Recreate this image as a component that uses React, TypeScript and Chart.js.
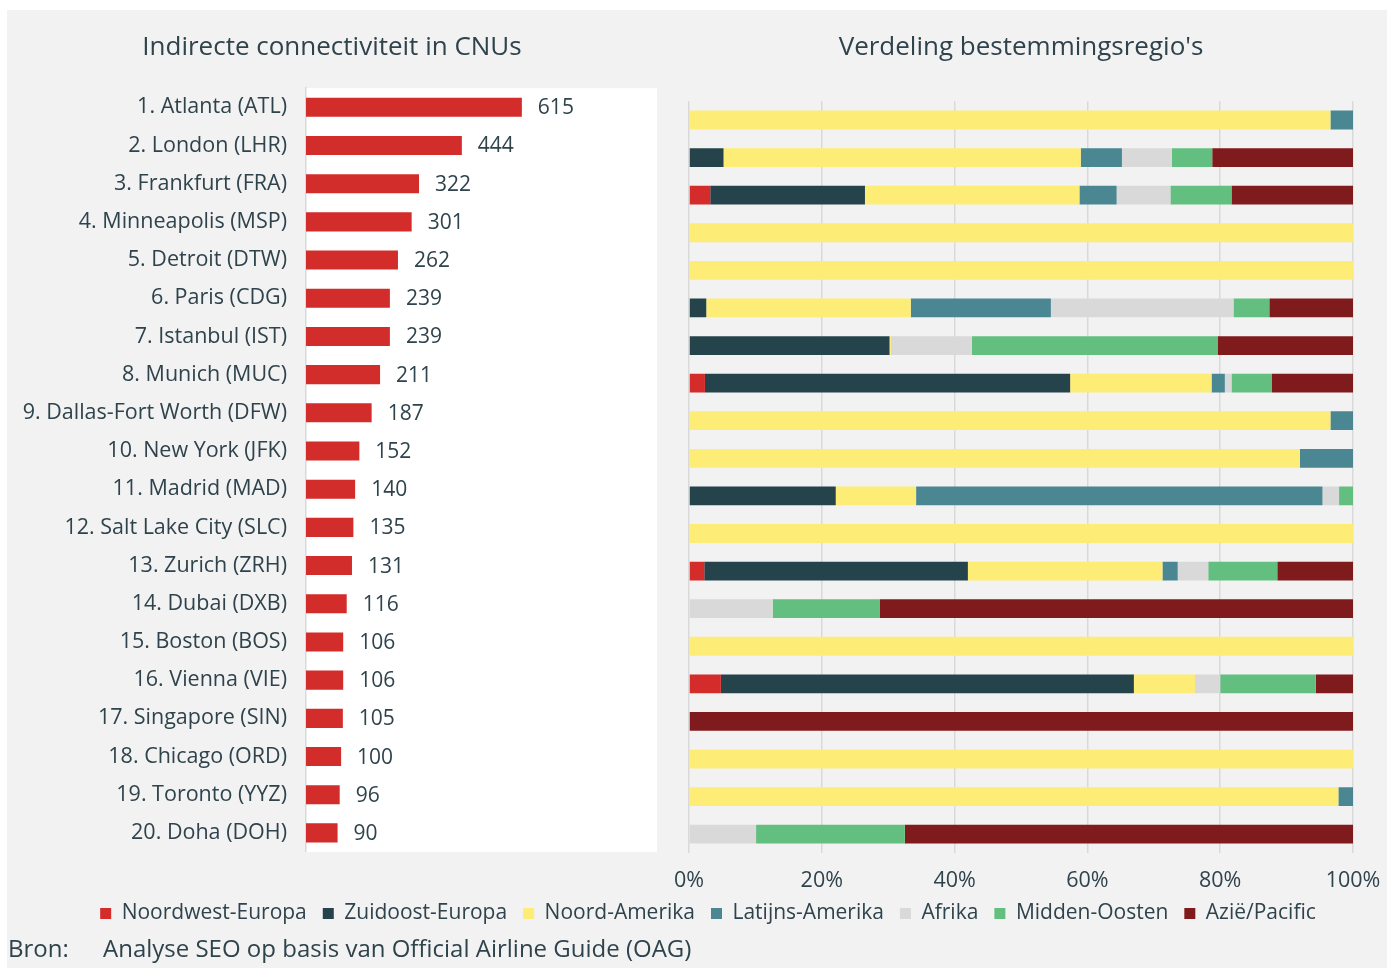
import React, { useEffect, useRef } from "react";
import { Chart, registerables } from "chart.js";

Chart.register(...registerables);

// ---------- Data ----------
const airports = [
  "1. Atlanta (ATL)",
  "2. London (LHR)",
  "3. Frankfurt (FRA)",
  "4. Minneapolis (MSP)",
  "5. Detroit (DTW)",
  "6. Paris (CDG)",
  "7. Istanbul (IST)",
  "8. Munich (MUC)",
  "9. Dallas-Fort Worth (DFW)",
  "10. New York (JFK)",
  "11. Madrid (MAD)",
  "12. Salt Lake City (SLC)",
  "13. Zurich (ZRH)",
  "14. Dubai (DXB)",
  "15. Boston (BOS)",
  "16. Vienna (VIE)",
  "17. Singapore (SIN)",
  "18. Chicago (ORD)",
  "19. Toronto (YYZ)",
  "20. Doha (DOH)",
];

const connectivity = [615, 444, 322, 301, 262, 239, 239, 211, 187, 152, 140, 135, 131, 116, 106, 106, 105, 100, 96, 90];

const regionNames = [
  "Noordwest-Europa",
  "Zuidoost-Europa",
  "Noord-Amerika",
  "Latijns-Amerika",
  "Afrika",
  "Midden-Oosten",
  "Azië/Pacific",
];

const noordwestEuropa = [0, 0, 3.2, 0, 0, 0, 0, 2.4, 0, 0, 0, 0, 2.3, 0, 0, 4.8, 0, 0, 0, 0];
const zuidoostEuropa = [0, 5.2, 23.3, 0, 0, 2.6, 30.2, 55.0, 0, 0, 22.1, 0, 39.7, 0, 0, 62.2, 0, 0, 0, 0];
const noordAmerika = [96.6, 53.8, 32.3, 100, 100, 30.8, 0.2, 21.3, 96.6, 92.0, 12.1, 100, 29.3, 0, 100, 9.2, 0, 100, 97.8, 0];
const latijnsAmerika = [3.4, 6.2, 5.6, 0, 0, 21.1, 0, 2.0, 3.4, 8.0, 61.2, 0, 2.3, 0, 0, 0, 0, 0, 2.2, 0];
const afrika = [0, 7.5, 8.1, 0, 0, 27.5, 12.2, 1.0, 0, 0, 2.5, 0, 4.6, 12.6, 0, 3.8, 0, 0, 0, 10.1];
const middenOosten = [0, 6.1, 9.2, 0, 0, 5.4, 37.0, 6.1, 0, 0, 2.1, 0, 10.4, 16.1, 0, 14.4, 0, 0, 0, 22.4];
const aziePacific = [0, 21.2, 18.3, 0, 0, 12.6, 20.4, 12.2, 0, 0, 0, 0, 11.4, 71.3, 0, 5.6, 100, 0, 0, 67.5];

const regionSeries = [noordwestEuropa, zuidoostEuropa, noordAmerika, latijnsAmerika, afrika, middenOosten, aziePacific];
const regionColors = ["#d42b2b", "#25434a", "#fdec76", "#4a8793", "#d9d9d9", "#63bf7f", "#7f1b1c"];

const leftTitle = "Indirecte connectiviteit in CNUs";
const rightTitle = "Verdeling bestemmingsregio's";
const sourceLabel = "Bron:";
const sourceText = "Analyse SEO op basis van Official Airline Guide (OAG)";

// ---------- Styles ----------
const TEXT = "#2f434c";
const FONT = "'Open Sans', Lato, sans-serif";
const GRID = "#d9d9d9";
const BG = "#f2f2f2";

const whiteArea = {
  id: "whiteArea",
  beforeDraw(chart: any) {
    const { ctx, chartArea } = chart;
    ctx.save();
    ctx.fillStyle = "#ffffff";
    ctx.fillRect(chartArea.left, chartArea.top, chartArea.right - chartArea.left, chartArea.bottom - chartArea.top);
    ctx.restore();
  },
};

const valueLabels = {
  id: "valueLabels",
  afterDatasetsDraw(chart: any) {
    const { ctx } = chart;
    const meta = chart.getDatasetMeta(0);
    const data = chart.data.datasets[0].data;
    ctx.save();
    ctx.fillStyle = TEXT;
    ctx.font = `21px ${FONT}`;
    ctx.textAlign = "left";
    ctx.textBaseline = "middle";
    meta.data.forEach((bar: any, i: number) => {
      ctx.fillText(String(data[i]), bar.x + 16, bar.y + 1);
    });
    ctx.restore();
  },
};

// moves the bottom legend up a little, closer to the axis labels
const legendShift = {
  id: "legendShift",
  afterLayout(chart: any) {
    const lg = chart.legend;
    if (lg) {
      lg.top -= 7;
      lg.bottom -= 7;
    }
  },
};

export default function App() {
  const leftRef = useRef<HTMLCanvasElement | null>(null);
  const rightRef = useRef<HTMLCanvasElement | null>(null);

  useEffect(() => {
    const left = new Chart(leftRef.current as HTMLCanvasElement, {
      type: "bar",
      data: {
        labels: airports,
        datasets: [
          {
            data: connectivity,
            backgroundColor: "#d32d2b",
            borderWidth: 0,
            barPercentage: 0.5,
            categoryPercentage: 1,
          },
        ],
      },
      options: {
        indexAxis: "y",
        animation: false,
        responsive: false,
        maintainAspectRatio: false,
        layout: { padding: 0 },
        plugins: {
          legend: { display: false },
          tooltip: { enabled: false },
          title: {
            display: true,
            text: leftTitle,
            color: TEXT,
            font: { family: FONT, size: 26, weight: "normal" },
            padding: { top: 22, bottom: 25 },
          },
        },
        scales: {
          x: { display: false, min: 0, max: 1000 },
          y: {
            afterFit: (s: any) => {
              s.width = 299;
              s.paddingTop = 0;
              s.paddingBottom = 0;
            },
            grid: { display: false, drawTicks: false },
            border: { display: true, color: GRID, width: 1.5 },
            ticks: { color: TEXT, font: { family: FONT, size: 21.5 }, padding: 19 },
          },
        },
      } as any,
      plugins: [whiteArea, valueLabels],
    });

    const right = new Chart(rightRef.current as HTMLCanvasElement, {
      type: "bar",
      data: {
        labels: airports,
        datasets: regionNames.map((name, i) => ({
          label: name,
          data: regionSeries[i],
          backgroundColor: regionColors[i],
          borderWidth: 0,
          barPercentage: 0.5,
          categoryPercentage: 1,
        })),
      },
      options: {
        indexAxis: "y",
        animation: false,
        responsive: false,
        maintainAspectRatio: false,
        layout: { padding: { left: 56, right: 34, top: 0, bottom: 0 } },
        plugins: {
          tooltip: { enabled: false },
          title: {
            display: true,
            fullSize: false,
            text: rightTitle,
            color: TEXT,
            font: { family: FONT, size: 26, weight: "normal" },
            padding: { top: 22, bottom: 38 },
          },
          legend: {
            display: true,
            position: "bottom",
            labels: {
              boxWidth: 11,
              boxHeight: 11,
              color: TEXT,
              font: { family: FONT, size: 21 },
              padding: 16,
            },
          },
        },
        scales: {
          x: {
            stacked: true,
            min: 0,
            max: 100,
            afterFit: (s: any) => {
              s.height = 41;
              s.paddingLeft = 0;
              s.paddingRight = 0;
            },
            grid: { color: GRID, lineWidth: 1.5, drawTicks: false },
            border: { display: false },
            ticks: {
              stepSize: 20,
              color: TEXT,
              font: { family: FONT, size: 21.5 },
              padding: 15,
              callback: (v: any) => `${v}%`,
            },
          },
          y: {
            stacked: true,
            afterFit: (s: any) => {
              s.width = 626;
              s.paddingTop = 0;
              s.paddingBottom = 0;
            },
            grid: { display: false, drawTicks: false },
            border: { display: false },
            ticks: { display: false },
          },
        },
      } as any,
      plugins: [legendShift],
    });

    return () => {
      left.destroy();
      right.destroy();
    };
  }, []);

  return (
    <div
      style={{
        position: "absolute",
        left: 7,
        top: 10,
        width: 1380,
        height: 958,
        background: BG,
        fontFamily: FONT,
        color: TEXT,
        overflow: "hidden",
      }}
    >
      <canvas
        ref={rightRef}
        width={1380}
        height={931}
        style={{ position: "absolute", left: 0, top: 0, width: 1380, height: 931 }}
      />
      <canvas
        ref={leftRef}
        width={650}
        height={842}
        style={{ position: "absolute", left: 0, top: 0, width: 650, height: 842 }}
      />
      <span style={{ position: "absolute", left: 1, top: 923, fontSize: 24, lineHeight: "30px" }}>{sourceLabel}</span>
      <span style={{ position: "absolute", left: 96, top: 923, fontSize: 24, lineHeight: "30px" }}>{sourceText}</span>
    </div>
  );
}
